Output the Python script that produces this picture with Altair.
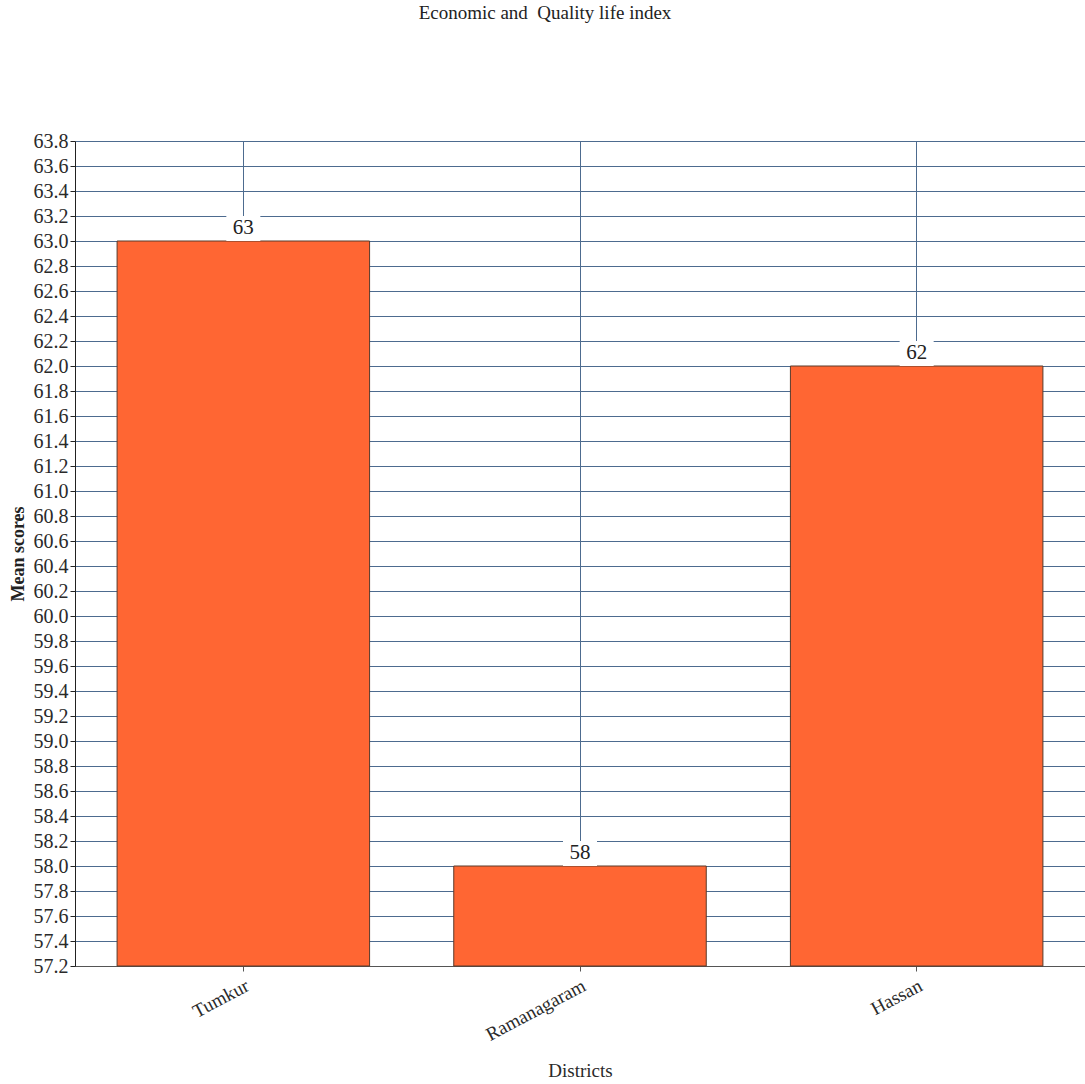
import altair as alt
import pandas as pd

districts = ["Tumkur", "Ramanagaram", "Hassan"]
scores = [63, 58, 62]
y_ticks = [round(57.2 + 0.2 * i, 1) for i in range(34)]

df = pd.DataFrame({"District": districts, "Score": scores})

FONT = "Times New Roman, Liberation Serif, serif"
GRID = "#4d6b8f"

x_axis = alt.Axis(labelAngle=-28, labelAlign="right", labelBaseline="top",
                  labelFontSize=19, labelFont=FONT, labelColor="#2a2a2a",
                  titleFont=FONT, titleFontSize=19, titleFontWeight="normal",
                  titleColor="#2a2a2a", titlePadding=17,
                  grid=True, gridColor=GRID, gridWidth=1,
                  domainColor="#555555", tickColor="#555555", tickSize=5,
                  labelPadding=5, labelOverlap=False)
x_scale = alt.Scale(paddingInner=0.25, paddingOuter=0.125)

y_axis = alt.Axis(values=y_ticks, format=".1f", labelFont=FONT, labelFontSize=20,
                  labelColor="#2a2a2a", titleFont=FONT, titleFontSize=18,
                  titleFontWeight="bold", titleColor="#222222", titlePadding=6,
                  grid=True, gridColor=GRID, gridWidth=1,
                  domainColor="#222222", tickColor="#222222", tickSize=5,
                  labelPadding=2, labelOverlap=False, labelBound=False,
                  labelFlush=False, tickCount=34)
y_scale = alt.Scale(domain=[57.2, 63.8], nice=False, zero=False)


def xe():
    return alt.X("District:N", sort=districts, title="Districts", scale=x_scale, axis=x_axis)


def ye():
    return alt.Y("Score:Q", scale=y_scale, title="Mean scores", axis=y_axis)


bars = alt.Chart(df).mark_bar(color="#ff6633", stroke="#5a3a2a", strokeWidth=1).encode(
    x=xe(), y=ye(), y2=alt.datum(57.2),
)

label_bg = alt.Chart(df).transform_calculate(top="datum.Score + 0.2").mark_bar(
    color="white", size=34).encode(
    x=xe(), y=ye(), y2="top:Q",
)

labels = alt.Chart(df).mark_text(font=FONT, fontSize=21, baseline="bottom", dy=-3,
                                 color="#222222").encode(
    x=xe(), y=ye(), text="Score:Q",
)

chart = alt.layer(bars, label_bg, labels).properties(
    width=1010, height=825,
    autosize=alt.AutoSizeParams(type="none"),
    padding={"left": 75, "top": 141, "right": 0, "bottom": 118},
    title=alt.TitleParams("Economic and\u00a0 Quality life index", font=FONT, fontSize=19,
                          fontWeight="normal", color="#222222", offset=108, dx=-35,
                          anchor="middle"),
).configure_view(stroke="#888888", strokeWidth=1).configure_axis(
    labelFont=FONT, titleFont=FONT
).configure(background="white")

chart.save("out.html", embed_options={"renderer": "svg", "actions": False})
